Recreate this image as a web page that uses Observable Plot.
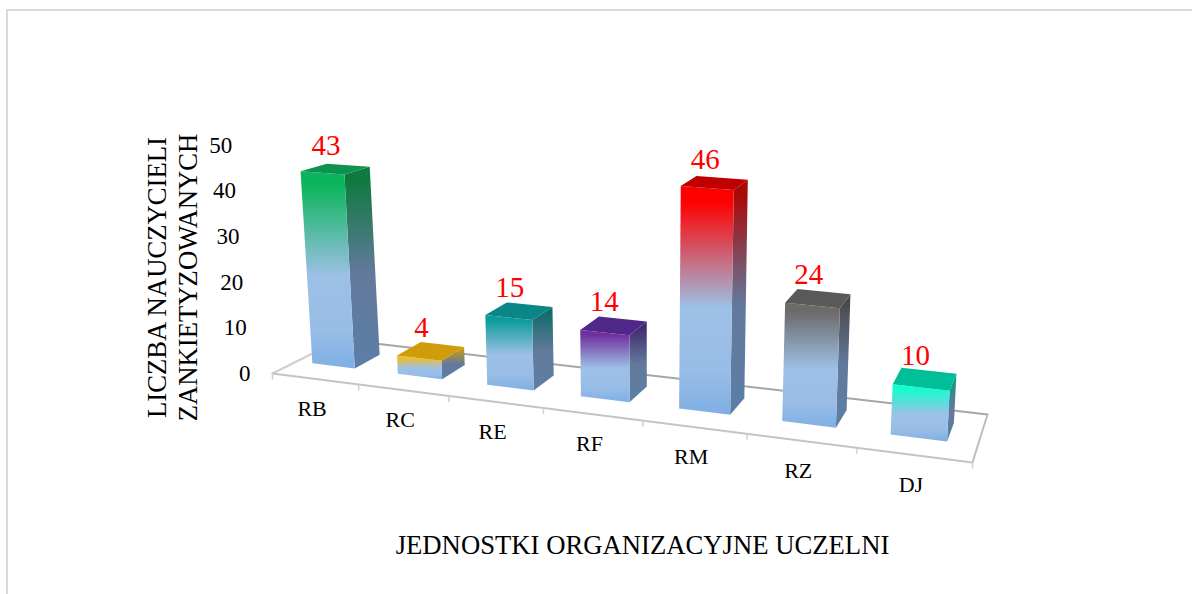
<!DOCTYPE html>
<html>
<head>
<meta charset="utf-8">
<script src="https://cdn.jsdelivr.net/npm/d3@7"></script>
<script src="https://cdn.jsdelivr.net/npm/@observablehq/plot@0.6"></script>
<style>
html,body{margin:0;padding:0;background:#fff;overflow:hidden}
#chart{position:relative;width:1192px;height:594px}
#chart svg{position:absolute;left:0;top:0;background:transparent}
#frame{position:absolute;left:6px;top:9px;right:-4px;bottom:-4px;border:2px solid #d9d9d9}
</style>
</head>
<body>
<div id="chart"><div id="frame"></div></div>
<script>
const categories = ["RB","RC","RE","RF","RM","RZ","DJ"];
const values = [43,4,15,14,46,24,10];
const yTicks = [0,10,20,30,40,50];
const yTitleLines = ["LICZBA NAUCZYCIELI","ZANKIETYZOWANYCH"];
const xTitle = "JEDNOSTKI ORGANIZACYJNE UCZELNI";
const frontColors = ["#0cb55c","#f5bd1a","#0c9c9c","#7030a0","#ff0000","#6d6a6a","#0fffcf"];
const sideColors  = ["#0f7a40","#c89a12","#126c6c","#43296f","#a80a0a","#4a4a4c","#0a9c84"];
const topColors   = ["#0e9250","#cf9c0c","#0a8686","#50288a","#c00000","#5a5858","#00bf98"];

// Perspective floor: homography from the unit square (u along categories, d into depth)
const FL=[272,373],FR=[972,462],BR=[987,414],BL=[340,339];
const sx=FL[0]-FR[0]+BR[0]-BL[0], sy=FL[1]-FR[1]+BR[1]-BL[1];
const dx1=FR[0]-BR[0], dx2=BL[0]-BR[0], dy1=FR[1]-BR[1], dy2=BL[1]-BR[1];
const den=dx1*dy2-dx2*dy1;
const g=(sx*dy2-dx2*sy)/den, h=(dx1*sy-sx*dy1)/den;
const ax=FR[0]-FL[0]+g*FR[0], bx=BL[0]-FL[0]+h*BL[0];
const ay=FR[1]-FL[1]+g*FR[1], by=BL[1]-FL[1]+h*BL[1];
function project(u,d,v){
  const w=g*u+h*d+1;
  const px=(ax*u+bx*d+FL[0])/w, py=(ay*u+by*d+FL[1])/w;
  const k=(4.56-0.35*d+0.65*u)*v;
  return {x:px+k*(-0.065+0.12*u), y:py-k};
}
const n=categories.length, halfW=0.036, d0=0.33, d1=0.72;
const cx=i=>(i+0.5)/n;
const barCx=i=>cx(i)-0.007+0.005*cx(i);

function quad(a,b,c,e){
  return [
    {x1:a.x,y1:a.y,x2:e.x,y2:e.y},
    {x1:b.x,y1:b.y,x2:c.x,y2:c.y}
  ];
}
const areaMark=(q,fill)=>Plot.area(q,{x1:"x1",y1:"y1",x2:"x2",y2:"y2",fill,curve:"linear"});

const defsMark=()=>{
  const defs=d3.create("svg:defs");
  const grad=(id,stops)=>{
    const lg=defs.append("linearGradient").attr("id",id).attr("x1",0).attr("y1",0).attr("x2",0).attr("y2",1);
    stops.forEach(([o,c])=>lg.append("stop").attr("offset",o).attr("stop-color",c));
  };
  categories.forEach((c,i)=>{
    grad("front"+i,[[0,frontColors[i]],[0.07,frontColors[i]],[0.53,"#9dc0e6"],[0.8,"#98bde6"],[1,"#7fafe4"]]);
    grad("side"+i,[[0,sideColors[i]],[0.07,sideColors[i]],[0.53,"#63799c"],[1,"#5b7fa6"]]);
  });
  return defs.node();
};

const marks=[defsMark];
// Floor
const edge=(pts,stroke,sw)=>Plot.line(pts,{x:"x",y:"y",stroke,strokeWidth:sw});
marks.push(edge([project(0,1,0),project(1,1,0)],"#a6a6a6",2));
marks.push(edge([project(0,0,0),project(0,1,0)],"#cfcfcf",2));
marks.push(edge([project(1,0,0),project(1,1,0)],"#bdbdbd",2));
marks.push(edge([project(0,0,0),project(1,0,0)],"#c4c4c4",2));
const tickPts=d3.range(n+1).map(i=>project(i/n,0,0));
marks.push(Plot.link(tickPts,{x1:"x",x2:"x",y1:"y",y2:d=>d.y+6,stroke:"#cfcfcf",strokeWidth:1.5}));

// Bars
values.forEach((v,i)=>{
  const uL=barCx(i)-halfW,uR=barCx(i)+halfW;
  const fl0=project(uL,d0,0),fr0=project(uR,d0,0),br0=project(uR,d1,0);
  const fl1=project(uL,d0,v),fr1=project(uR,d0,v),br1=project(uR,d1,v),bl1=project(uL,d1,v);
  marks.push(areaMark(quad(fr1,br1,br0,fr0),`url(#side${i})`));
  marks.push(areaMark(quad(fl1,fr1,fr0,fl0),`url(#front${i})`));
  marks.push(areaMark(quad(bl1,br1,fr1,fl1),topColors[i]));
});

const serif="'Liberation Serif','Times New Roman',serif";
// Value labels
marks.push(Plot.text(values.map((v,i)=>({v,...project(barCx(i),(d0+d1)/2,v)})),{
  x:"x",y:"y",text:d=>String(d.v),dx:-10,dy:-24,fontSize:29,fontFamily:serif,fill:"#ff0000"}));
// Category labels
marks.push(Plot.text(categories.map((c,i)=>({c,...project(cx(i),0,0)})),{
  x:"x",y:"y",text:"c",dx:-3,dy:30,fontSize:22,fontFamily:serif,fill:"#000"}));
// Value axis
marks.push(Plot.text(yTicks.map(t=>({t,...project(0,0,t)})),{
  x:d=>d.x-0.068*d.t,y:"y",text:d=>String(d.t),dx:-22,textAnchor:"end",fontSize:23,fontFamily:serif,fill:"#000"}));
// Titles
marks.push(Plot.text(yTitleLines,{x:(d,i)=>[157,188][i],y:()=>277,text:d=>d,rotate:-90,fontSize:26.7,fontFamily:serif,fill:"#000"}));
marks.push(Plot.text([xTitle],{x:()=>642,y:()=>545,text:d=>d,fontSize:26.7,fontFamily:serif,fill:"#000"}));

const chart=Plot.plot({
  width:1192,height:594,margin:0,
  x:{domain:[0,1192],range:[0,1192],axis:null},
  y:{domain:[0,594],range:[0,594],axis:null},
  style:{background:"transparent"},
  marks
});
document.getElementById("chart").appendChild(chart);
</script>
</body>
</html>
